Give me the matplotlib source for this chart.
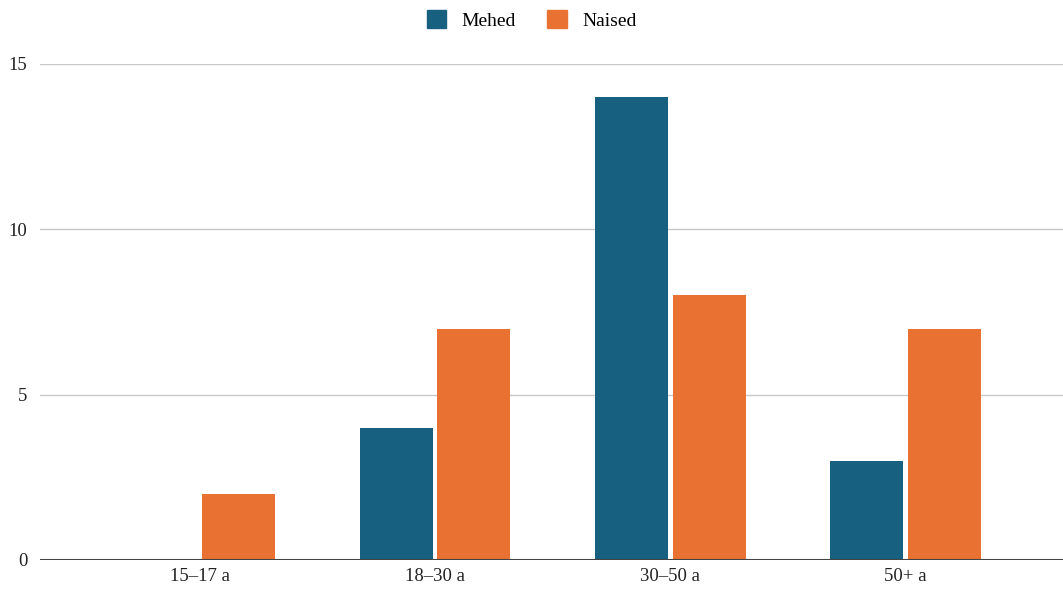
import matplotlib.pyplot as plt
import numpy as np
from matplotlib.patches import Patch

categories = ["15–17 a", "18–30 a", "30–50 a", "50+ a"]
mehed = [0, 4, 14, 3]
naised = [2, 7, 8, 7]

plt.rcParams['font.family'] = ['Liberation Serif', 'DejaVu Serif']

fig = plt.figure(figsize=(10.63, 5.92), dpi=100)
ax = fig.add_axes([40 / 1063, 1 - 560 / 592, 1 - 40 / 1063, (560 - 64) / 592])

x = np.arange(len(categories))
w = 0.31
ax.bar(x - 0.165, mehed, w, color="#17607f", zorder=3)
ax.bar(x + 0.165, naised, w, color="#e97132", zorder=3)

ax.set_xlim(-0.68, 3.67)
ax.set_ylim(0, 15)
ax.set_yticks([0, 5, 10, 15])
ax.set_xticks(x)
ax.set_xticklabels(categories)
ax.grid(axis="y", color="#c8c8c8", linewidth=1, zorder=0)
ax.axhline(0, color="#444444", linewidth=1.5, zorder=4)
for s in ax.spines.values():
    s.set_visible(False)
ax.tick_params(axis="both", length=0, labelsize=13.5, colors="#222222")
ax.tick_params(axis="y", pad=9)
ax.tick_params(axis="x", pad=6)

handles = [Patch(color="#17607f", label="Mehed"), Patch(color="#e97132", label="Naised")]
fig.legend(handles=handles, loc="center", bbox_to_anchor=(0.5, 1 - 20 / 592), ncol=2,
           frameon=False, fontsize=14, handlelength=1.0, handleheight=1.0,
           columnspacing=1.6, handletextpad=0.8)

plt.savefig("out.png")
